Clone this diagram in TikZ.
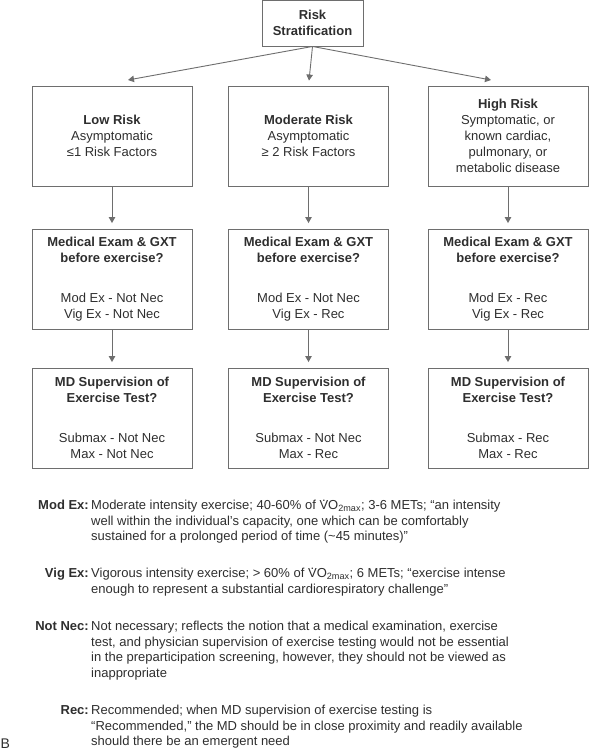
\documentclass[tikz,border=0pt]{standalone}
\usepackage{fontspec}
\setmainfont{Liberation Sans}
\usepackage{tikz}
\usetikzlibrary{arrows.meta,positioning}
\definecolor{ink}{HTML}{2E2E2E}
\definecolor{rule}{HTML}{6E6E6E}
\newcommand{\vdotO}{\rlap{\hspace{0.2em}\raisebox{0.6em}{.}}VO\textsubscript{2max}}

\begin{document}
\begin{tikzpicture}[x=1pt, y=-1pt,
  every node/.style={text=ink, font=\fontsize{13}{16}\selectfont},
  box/.style={draw=rule, line width=0.9pt, minimum width=160pt, minimum height=100pt, align=center, inner sep=0pt},
  arr/.style={draw=rule, line width=0.9pt, -{Triangle[length=6pt,width=6.5pt]}},
  lab/.style={anchor=base east, inner sep=0pt, font=\bfseries\fontsize{13}{15.5}\selectfont},
  note/.style={anchor=base west, align=left, inner sep=0pt, font=\fontsize{13}{15.5}\selectfont}]
  \useasboundingbox (0,0) rectangle (589,750);

  % top box
  \node[box, minimum width=101pt, minimum height=46pt] (r) at (312.5,23) {\textbf{Risk}\\\textbf{Stratification}};

  % risk groups
  \node[box] (a1) at (112,136) {\textbf{Low Risk}\\Asymptomatic\\≤1 Risk Factors};
  \node[box] (b1) at (308.5,136) {\textbf{Moderate Risk}\\Asymptomatic\\≥ 2 Risk Factors};
  \node[box] (c1) at (508,136) {\textbf{High Risk}\\Symptomatic, or\\known cardiac,\\pulmonary, or\\metabolic disease};

  % medical exam
  \node[box] (a2) at (112,279) {\textbf{Medical Exam \& GXT}\\\textbf{before exercise?}\\[24pt]Mod Ex - Not Nec\\Vig Ex - Not Nec};
  \node[box] (b2) at (308.5,279) {\textbf{Medical Exam \& GXT}\\\textbf{before exercise?}\\[24pt]Mod Ex - Not Nec\\Vig Ex - Rec};
  \node[box] (c2) at (508,279) {\textbf{Medical Exam \& GXT}\\\textbf{before exercise?}\\[24pt]Mod Ex - Rec\\Vig Ex - Rec};

  % supervision
  \node[box] (a3) at (112,418) {\textbf{MD Supervision of}\\\textbf{Exercise Test?}\\[24pt]Submax - Not Nec\\Max - Not Nec};
  \node[box] (b3) at (308.5,418) {\textbf{MD Supervision of}\\\textbf{Exercise Test?}\\[24pt]Submax - Not Nec\\Max - Rec};
  \node[box] (c3) at (508,418) {\textbf{MD Supervision of}\\\textbf{Exercise Test?}\\[24pt]Submax - Rec\\Max - Rec};

  \coordinate (tl) at (128,80);
  \coordinate (tr) at (491,80);
  \draw[arr] (r.south) -- (tl);
  \draw[arr, shorten >=5pt] (r.south) -- (b1.north);
  \draw[arr] (r.south) -- (tr);
  \foreach \i in {a,b,c} {
    \draw[arr, shorten >=5.5pt] (\i1) -- (\i2);
    \draw[arr, shorten >=5.5pt] (\i2) -- (\i3);
  }

  % key (note nodes sit on their last line)
  \node[lab] (k1) at (89,509.5) {Mod Ex:};
  \node[note] (t1) at (91,540.5) {Moderate intensity exercise; 40-60\% of \vdotO; 3-6 METs; “an intensity\\well within the individual’s capacity, one which can be comfortably\\sustained for a prolonged period of time (\textasciitilde45 minutes)”};
  \node[lab] (k2) at (89,577.5) {Vig Ex:};
  \node[note] (t2) at (91,593) {Vigorous intensity exercise; > 60\% of \vdotO; 6 METs; “exercise intense\\enough to represent a substantial cardiorespiratory challenge”};
  \node[lab] (k3) at (89,630.5) {Not Nec:};
  \node[note] (t3) at (91,677) {Not necessary; reflects the notion that a medical examination, exercise\\test, and physician supervision of exercise testing would not be essential\\in the preparticipation screening, however, they should not be viewed as\\inappropriate};
  \node[lab] (k4) at (89,714.5) {Rec:};
  \node[note] (t4) at (91,745.5) {Recommended; when MD supervision of exercise testing is\\“Recommended,” the MD should be in close proximity and readily available\\should there be an emergent need};
  \node[anchor=base west, inner sep=0pt, font=\fontsize{14}{16}\selectfont] (fig) at (0.5,748) {B};
\end{tikzpicture}
\end{document}
